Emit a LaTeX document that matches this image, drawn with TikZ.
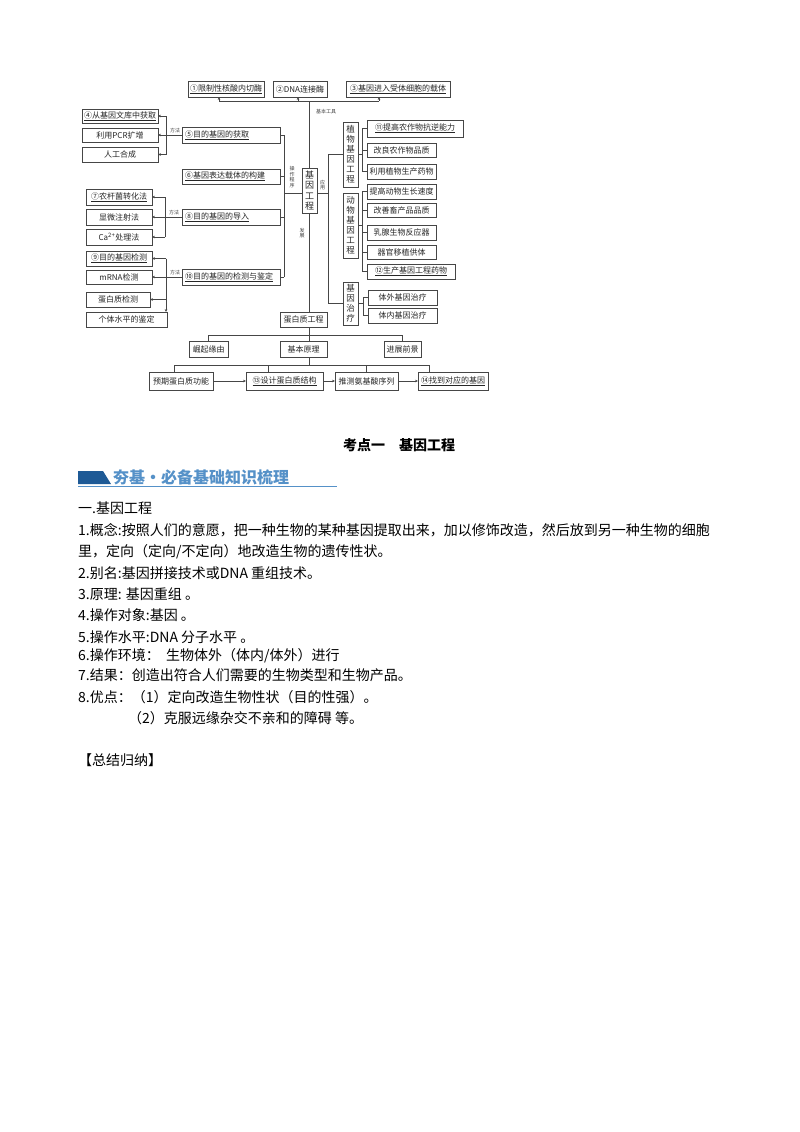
\documentclass[tikz,border=0pt]{standalone}
\usepackage{fontspec}
\setmainfont{Noto Sans CJK SC}
\usetikzlibrary{arrows.meta}
\definecolor{bdark}{RGB}{30,90,150}
\definecolor{blight}{RGB}{85,145,200}
\definecolor{lnc}{RGB}{70,70,70}
\newcommand{\uln}[1]{\underline{#1}}
\newcommand{\bx}[7][]{\node[box,minimum width={#5-#3},minimum height={#6-#4},#1] (#2) at ({(#3+#5)/2},{(#4+#6)/2}) {#7};}
\tikzset{
 box/.style={draw=lnc,line width=0.6pt,inner sep=0pt,outer sep=0pt,font=\fontsize{8}{9}\selectfont,text=black!85},
 mbox/.style={align=left,text width=92pt,inner xsep=3pt},
 vbox/.style={align=center,font=\fontsize{8.5}{10}\selectfont},
 ln/.style={draw=lnc,line width=0.6pt},
 arr/.style={ln,-{Stealth[length=3pt,width=2.6pt]}},
 tinylbl/.style={font=\fontsize{5}{5.5}\selectfont,text=black!75,inner sep=0pt,align=center},
 body/.style={anchor=base west,inner sep=0pt,font=\fontsize{14}{14}\selectfont},
}
\begin{document}
\begin{tikzpicture}[x=1pt,y=-1pt]
\fill[white] (0,0) rectangle (800,1132);
\useasboundingbox (0,0) rectangle (800,1132);

% ---------- top tools ----------
\bx{t1}{188}{81}{264}{97}{\uln{①限制性核酸内切酶}}
\bx{t2}{273}{81}{327}{97}{②DNA连接酶}
\bx{t3}{346}{81}{450}{97}{\uln{③基因进入受体细胞的载体}}
\coordinate (ha) at (219,101);
\coordinate (hb) at (298,101);
\coordinate (hc) at (379,101);
\coordinate (hm) at (309.5,101);
\draw[ln] (ha) -- (hc);
\draw[arr] (ha) -- (ha|-t1.south);
\draw[arr] (hb) -- (hb|-t2.south);
\draw[arr] (hc) -- (hc|-t3.south);
\node[tinylbl] (lbA) at (326,112) {基本工具};

% ---------- centre ----------
\bx[vbox,font=\fontsize{9}{10.5}\selectfont]{G}{302}{168}{317}{213}{基\\因\\工\\程}
\draw[ln] (hm) -- (hm|-G.north);

% ---------- operation steps ----------
\bx[mbox]{m5}{182}{127}{280}{143}{\uln{⑤目的基因的获取}}
\bx[mbox]{m6}{182}{169}{280}{184}{\uln{⑥基因表达载体的构建}}
\bx[mbox]{m8}{182}{209}{280}{225}{\uln{⑧目的基因的导入}}
\bx[mbox]{m10}{182}{269}{280}{285}{\uln{⑩目的基因的检测与鉴定}}
\coordinate (oL) at (284,193);
\coordinate (oT) at (284,135);
\coordinate (oB) at (284,277);
\draw[ln] (G.west|-oL) -- (oL);
\draw[ln] (oT) -- (oB);
\draw[ln] (m5.east) -- (m5.east-|oL);
\draw[ln] (m6.east) -- (m6.east-|oL);
\draw[ln] (m8.east) -- (m8.east-|oL);
\draw[ln] (m10.east) -- (m10.east-|oL);
\node[tinylbl,font=\fontsize{5}{5.6}\selectfont] (lbB) at (292,177) {操\\作\\程\\序};

% group of 5
\bx{l4}{82}{109}{158}{123}{\uln{④从基因文库中获取}}
\bx{l5}{82}{128}{158}{142}{利用PCR扩增}
\bx{l6}{82}{147}{158}{162}{人工合成}
\coordinate (k1t) at (166,116);
\coordinate (k1b) at (166,154.5);
\draw[ln] (k1t) -- (k1b);
\draw[arr] (k1t) -- (l4.east);
\draw[arr] (k1b) -- (l6.east);
\draw[arr] (m5.west) -- (l5.east);
\node[tinylbl] (lbC) at (175,131) {方法};

% group of 8
\bx{l7}{86}{189}{152}{205}{\uln{⑦农杆菌转化法}}
\bx{l8}{86}{209}{152}{225}{显微注射法}
\bx{l9c}{86}{229}{152}{245}{Ca\textsuperscript{2+}处理法}
\coordinate (k2t) at (165,197);
\coordinate (k2b) at (165,237);
\draw[ln] (k2t) -- (k2b);
\draw[arr] (k2t) -- (l7.east);
\draw[arr] (k2b) -- (l9c.east);
\draw[arr] (m8.west) -- (l8.east);
\node[tinylbl] (lbD) at (174,213) {方法};

% group of 10
\bx{l9}{86}{251}{152}{266}{\uln{⑨目的基因检测}}
\bx{lm}{86}{270}{152}{284}{mRNA检测}
\bx{lp}{86}{292}{150}{307}{蛋白质检测}
\bx{li}{86}{312}{167}{327}{个体水平的鉴定}
\coordinate (k3t) at (166,258.5);
\coordinate (k3p) at (166,299.5);
\draw[arr] (k3t) -- (k3t|-li.north);
\draw[arr] (k3t) -- (l9.east);
\draw[arr] (k3p) -- (lp.east);
\draw[arr] (m10.west) -- (lm.east);
\node[tinylbl] (lbE) at (175,273) {方法};

% ---------- applications ----------
\bx[vbox]{R1}{343}{122}{358}{187}{植\\物\\基\\因\\工\\程}
\bx[vbox]{R2}{343}{193}{358}{258}{动\\物\\基\\因\\工\\程}
\bx[vbox]{R3}{343}{282}{358}{325}{基\\因\\治\\疗}
\coordinate (ap) at (328,193);
\coordinate (apt) at (328,154.5);
\coordinate (apb) at (328,303.5);
\draw[ln] (G.east|-ap) -- (ap);
\draw[ln] (R1.west) -- (apt) -- (apb) -- (R3.west);
\node[tinylbl,font=\fontsize{5}{5.6}\selectfont] (lbF) at (322.5,185) {应\\用};

% plant
\bx{p1}{367}{120}{463}{137}{\uln{⑪提高农作物抗逆能力}}
\bx{p2}{367}{143}{436}{157}{改良农作物品质}
\bx{p3}{367}{164}{436}{179}{利用植物生产药物}
\coordinate (pt) at (362,128.5);
\coordinate (pb) at (362,171.5);
\draw[ln] (pt) -- (pb);
\draw[ln] (pt) -- (p1.west);
\draw[ln] (p2.west-|pt) -- (p2.west);
\draw[ln] (pb) -- (p3.west);
\draw[ln] (R1.east) -- (R1.east-|pt);

% animal
\bx{a1}{367}{184}{436}{199}{提高动物生长速度}
\bx{a2}{367}{203}{436}{217}{改善畜产品品质}
\bx{a3}{367}{225}{436}{240}{乳腺生物反应器}
\bx{a4}{367}{245}{436}{259}{器官移植供体}
\bx{a5}{367}{264}{455}{279}{\uln{⑫生产基因工程药物}}
\coordinate (qt) at (362,191.5);
\coordinate (qb) at (362,271.5);
\draw[ln] (qt) -- (qb);
\draw[ln] (qt) -- (a1.west);
\draw[ln] (a2.west-|qt) -- (a2.west);
\draw[ln] (a3.west-|qt) -- (a3.west);
\draw[ln] (a4.west-|qt) -- (a4.west);
\draw[ln] (qb) -- (a5.west);
\draw[ln] (R2.east) -- (R2.east-|qt);

% therapy
\bx{g1}{368}{290}{437}{305}{体外基因治疗}
\bx{g2}{368}{308}{437}{323}{体内基因治疗}
\coordinate (st) at (363,297.5);
\coordinate (sb) at (363,315.5);
\draw[ln] (st) -- (sb);
\draw[ln] (st) -- (g1.west);
\draw[ln] (sb) -- (g2.west);
\draw[ln] (R3.east) -- (R3.east-|st);

% ---------- protein engineering ----------
\bx{P}{280}{312}{327}{327}{蛋白质工程}
\draw[ln] (G.south) -- (G.south|-P.north);
\node[tinylbl,font=\fontsize{5}{5.6}\selectfont] (lbG) at (302,233) {发\\展};

\bx{b1}{189}{341}{228}{357}{崛起缘由}
\bx{b2}{280}{341}{327}{357}{基本原理}
\bx{b3}{384}{341}{421}{357}{进展前景}
\coordinate (r2) at (309.5,335);
\draw[ln] (r2|-P.south) -- (r2|-b2.north);
\draw[ln] (b1.north) -- (b1.north|-r2) -- (b3.north|-r2) -- (b3.north);

\bx{c1}{149}{372}{213}{390}{预期蛋白质功能}
\bx{c2}{246}{372}{323}{390}{\uln{⑬设计蛋白质结构}}
\bx{c3}{335}{372}{398}{390}{推测氨基酸序列}
\bx{c4}{418}{372}{488}{390}{\uln{⑭找到对应的基因}}
\coordinate (r3) at (309.5,365);
\coordinate (d1) at (174,365);
\coordinate (d2) at (268,365);
\coordinate (d3) at (366,365);
\coordinate (d4) at (429,365);
\draw[ln] (r2|-b2.south) -- (r3);
\draw[ln] (d1) -- (d4);
\draw[ln] (d1) -- (d1|-c1.north);
\draw[ln] (d2) -- (d2|-c2.north);
\draw[ln] (d3) -- (d3|-c3.north);
\draw[ln] (d4) -- (d4|-c4.north);
\draw[arr] (c1.east) -- (c2.west);
\draw[arr] (c2.east) -- (c3.west);
\draw[arr] (c3.east) -- (c4.west);

% ---------- text part ----------
\node[inner sep=0pt,font=\fontsize{14}{14}\selectfont\bfseries] (title) at (399,445) {考点一　基因工程};
\fill[bdark] (78,471) -- (103,471) -- (111,484) -- (78,484) -- cycle;
\node[anchor=west,inner sep=0pt,text=blight,font=\fontsize{16}{16}\selectfont\bfseries] (ban) at (113,477.5) {夯基・必备基础知识梳理};
\draw[blight,line width=0.5pt] (78,486) -- (337,486);

\node[body] (s0) at (78,513) {一.基因工程};
\node[body] (s1) at (78,535) {1.概念:按照人们的意愿，把一种生物的某种基因提取出来，加以修饰改造，然后放到另一种生物的细胞};
\node[body] (s2) at (78,556) {里，定向（定向/不定向）地改造生物的遗传性状。};
\node[body] (s3) at (78,578) {2.别名:基因拼接技术或DNA 重组技术。};
\node[body] (s4) at (78,599) {3.原理: 基因重组 。};
\node[body] (s5) at (78,620) {4.操作对象:基因 。};
\node[body] (s6) at (78,642) {5.操作水平:DNA 分子水平 。};
\node[body] (s7) at (78,660) {6.操作环境：\ \ 生物体外（体内/体外）进行};
\node[body] (s8) at (78,680) {7.结果：创造出符合人们需要的生物类型和生物产品。};
\node[body] (s9) at (78,702) {8.优点：（1）定向改造生物性状（目的性强）。};
\node[body] (s10) at (128,723) {（2）克服远缘杂交不亲和的障碍 等。};
\node[body] (s11) at (78,765) {【总结归纳】};
\end{tikzpicture}
\end{document}
